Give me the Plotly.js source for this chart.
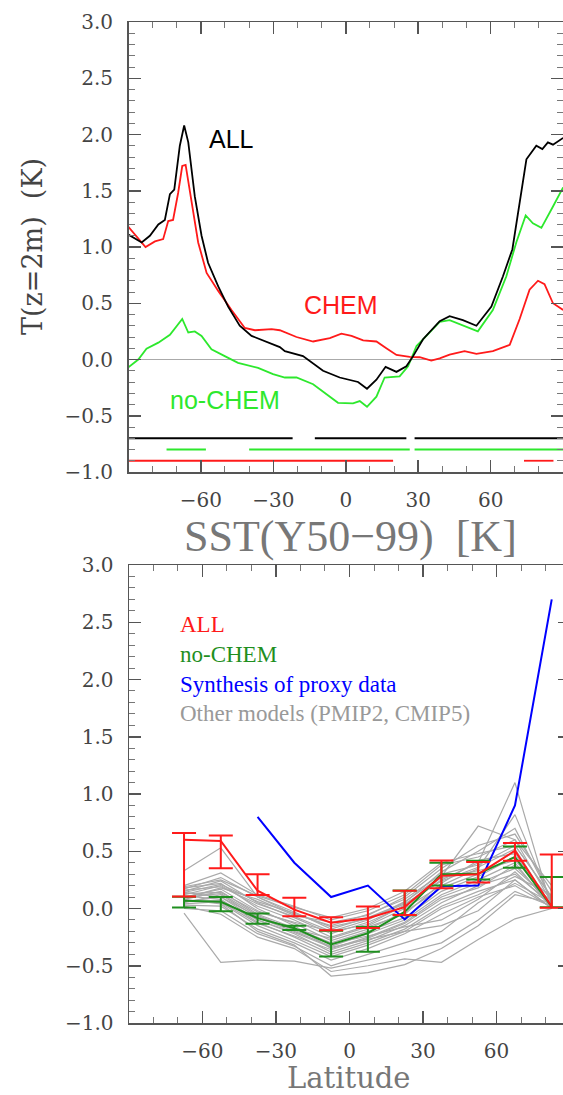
<!DOCTYPE html>
<html><head><meta charset="utf-8">
<script src="https://cdn.plot.ly/plotly-3.0.1.min.js"></script>
<style>html,body{margin:0;padding:0;overflow:hidden;background:#fff;width:563px;height:1095px}#plot{width:572px;height:1095px}</style>
</head><body><div id="plot"></div><script>
// ---------- Top panel: T(z=2m) difference vs latitude ----------
const allLat = [-90,-84.5,-81.1,-77.6,-74.9,-72.8,-71.0,-68.7,-66.9,-65.2,-62.5,-59.7,-57.0,-52.8,-48.7,-43.9,-39.0,-32.1,-27.3,-25.2,-17.7,-9.4,-2.5,5.1,8.8,12.7,16.5,21.0,25.1,27.9,32.0,38.9,43.0,48.5,54.1,60.3,65.1,69.0,72.0,74.8,78.9,81.4,83.7,85.8,90];
const allT   = [1.11,1.04,1.10,1.20,1.24,1.47,1.51,1.90,2.08,1.93,1.45,1.10,0.86,0.65,0.47,0.30,0.21,0.15,0.11,0.074,0.03,-0.10,-0.16,-0.20,-0.26,-0.18,-0.065,-0.11,-0.06,0.03,0.18,0.34,0.385,0.35,0.30,0.47,0.74,0.98,1.39,1.78,1.90,1.87,1.93,1.91,1.97];

const chemLat = [-90,-85.9,-82.9,-79.0,-75.6,-73.5,-71.5,-69.4,-67.7,-66.3,-63.8,-61.1,-57.6,-52.8,-47.3,-41.8,-37.6,-30.7,-27.3,-25.2,-20.4,-13.5,-6.6,-1.8,2.4,7.2,12.7,16.8,21.0,26.5,30.6,35.4,38.9,43.0,49.2,54.1,60.9,67.9,72.0,76.1,79.6,82.3,85.8,90];
const chemT   = [1.18,1.08,1.00,1.05,1.07,1.23,1.24,1.48,1.72,1.73,1.39,1.04,0.77,0.61,0.44,0.28,0.26,0.27,0.26,0.24,0.20,0.16,0.19,0.23,0.21,0.17,0.16,0.10,0.04,0.024,0.02,-0.01,0.01,0.044,0.074,0.05,0.074,0.13,0.36,0.62,0.70,0.67,0.50,0.44];

const noChemLat = [-90,-85.9,-82.5,-77.6,-72.8,-70.0,-67.7,-65.2,-62.5,-59.7,-55.6,-50.1,-44.6,-36.3,-30.1,-25.2,-20.4,-13.5,-8.0,-3.2,3.0,5.8,8.8,12.7,16.1,22.3,25.8,29.3,33.4,38.9,43.0,48.5,54.7,60.9,66.5,70.6,74.5,77.5,81.0,85.8,90];
const noChemT   = [-0.07,0.0,0.095,0.15,0.22,0.30,0.36,0.24,0.25,0.21,0.09,0.03,-0.03,-0.074,-0.13,-0.16,-0.16,-0.22,-0.31,-0.385,-0.39,-0.37,-0.42,-0.33,-0.16,-0.15,-0.06,0.12,0.21,0.335,0.35,0.30,0.25,0.44,0.74,1.04,1.28,1.21,1.17,1.36,1.53];

// significance segments (latitude start / end) and their levels
const sigAllStart = [-90,-12.8,28.5],  sigAllEnd = [-22,25.1,90],  sigAllLevel = -0.7;
const sigNoChemStart = [-74.2,-40,28.5], sigNoChemEnd = [-57.9,26.5,90], sigNoChemLevel = -0.8;
const sigChemStart = [-90,73.8], sigChemEnd = [19.6,86], sigChemLevel = -0.9;

// ---------- Bottom panel: zonal bands ----------
const bandLat = [-67.5,-52.5,-37.5,-22.5,-7.5,7.5,22.5,37.5,52.5,67.5,82.5];
const allMean = [0.60,0.59,0.155,-0.01,-0.125,-0.085,0.012,0.285,0.30,0.505,0.015];
const allLow  = [0.105,0.352,0.117,-0.067,-0.19,-0.17,-0.057,0.176,0.227,0.416,0.006];
const allHigh = [0.66,0.637,0.30,0.093,-0.077,0.017,0.155,0.42,0.407,0.573,0.471];
const noChemMean = [0.068,0.058,-0.084,-0.172,-0.314,-0.215,-0.03,0.30,0.303,0.45,0.015];
const noChemLow  = [0.008,-0.023,-0.133,-0.187,-0.42,-0.378,-0.06,0.20,0.253,0.355,0.01];
const noChemHigh = [0.103,0.10,-0.044,-0.15,-0.195,-0.162,0.157,0.40,0.416,0.541,0.275];
const proxyLat = [-37.5,-22.5,-7.5,7.5,22.5,37.5,52.5,67.5,82.5];
const proxyT   = [0.80,0.40,0.10,0.20,-0.095,0.195,0.20,0.90,2.70];
const otherModels = [
 [0.33,0.53,0.10,-0.05,-0.15,-0.05,0.08,0.30,0.38,0.55,0.10],
 [0.20,0.31,0.12,0.02,-0.10,-0.02,0.12,0.38,0.45,0.60,0.05],
 [0.17,0.27,0.10,-0.03,-0.18,-0.08,0.05,0.32,0.50,0.70,0.08],
 [0.15,0.24,0.05,-0.08,-0.22,-0.12,0.02,0.25,0.40,1.10,0.00],
 [0.12,0.20,0.02,-0.10,-0.25,-0.15,0.00,0.20,0.35,0.82,0.05],
 [0.10,0.17,-0.02,-0.13,-0.28,-0.18,-0.03,0.18,0.30,0.50,0.02],
 [0.08,0.15,-0.05,-0.17,-0.30,-0.20,-0.08,0.15,0.28,0.45,0.03],
 [0.05,0.12,-0.08,-0.20,-0.33,-0.22,-0.10,0.12,0.25,0.40,0.00],
 [0.18,0.22,0.00,-0.15,-0.35,-0.25,-0.12,0.10,0.22,0.35,0.06],
 [0.14,0.10,-0.10,-0.22,-0.38,-0.28,-0.15,0.05,0.20,0.30,0.04],
 [0.11,0.08,-0.12,-0.25,-0.40,-0.30,-0.18,0.02,0.15,0.25,0.00],
 [0.07,0.05,-0.15,-0.28,-0.42,-0.32,-0.20,0.00,0.12,0.28,0.12],
 [0.03,0.02,-0.18,-0.30,-0.45,-0.35,-0.22,-0.05,0.10,0.20,0.01],
 [-0.04,-0.47,-0.45,-0.46,-0.52,-0.45,-0.38,-0.30,-0.10,0.15,0.02],
 [0.00,-0.02,-0.22,-0.33,-0.50,-0.40,-0.30,-0.20,0.05,0.22,0.05],
 [0.09,0.18,0.08,-0.06,-0.12,-0.06,0.10,0.35,0.55,0.65,0.15],
 [0.13,0.14,-0.03,-0.12,-0.20,-0.10,0.06,0.28,0.72,0.60,0.20],
 [0.06,0.10,-0.07,-0.18,-0.26,-0.16,-0.05,0.22,0.42,0.48,0.00],
 [0.16,0.19,0.04,-0.07,-0.20,-0.14,0.03,0.27,0.33,0.42,0.08],
 [0.04,0.06,-0.13,-0.24,-0.36,-0.26,-0.13,0.08,0.18,0.38,0.03],
 [0.10,0.13,-0.06,-0.19,-0.31,-0.24,-0.16,-0.10,0.08,0.32,0.02],
 [0.02,-0.05,-0.25,-0.35,-0.55,-0.50,-0.44,-0.47,-0.27,-0.09,0.00],
 [0.08,0.04,-0.20,-0.32,-0.59,-0.56,-0.49,-0.35,-0.15,0.12,0.05],
 [0.19,0.25,0.11,0.01,-0.08,0.00,0.15,0.40,0.48,0.55,0.10],
 [0.14,0.21,0.06,-0.04,-0.16,-0.09,0.04,0.24,0.36,0.52,0.02],
 [0.06,0.07,-0.10,-0.21,-0.34,-0.27,-0.20,-0.15,-0.02,0.25,0.00]
];

const RED='#ff1a1a', LIME='#2de82d', DKGREEN='#1f8f1f', BLUE='#0000ff', GRAY='#aaaaaa';

function segs(starts, ends, level){
  const x=[], y=[];
  for(let i=0;i<starts.length;i++){ x.push(starts[i], ends[i], null); y.push(level, level, null); }
  return {x, y};
}
const traces = [];
function line(x,y,color,w,xa,ya){ return {x,y,type:'scatter',mode:'lines',line:{color,width:w},xaxis:xa,yaxis:ya,hoverinfo:'skip',showlegend:false}; }

traces.push(line(noChemLat,noChemT,LIME,1.8,'x','y'));
traces.push(line(chemLat,chemT,RED,1.8,'x','y'));
traces.push(line(allLat,allT,'#000',1.8,'x','y'));
let s = segs(sigAllStart,sigAllEnd,sigAllLevel); traces.push(line(s.x,s.y,'#000',1.8,'x','y'));
s = segs(sigNoChemStart,sigNoChemEnd,sigNoChemLevel); traces.push(line(s.x,s.y,LIME,1.8,'x','y'));
s = segs(sigChemStart,sigChemEnd,sigChemLevel); traces.push(line(s.x,s.y,RED,1.8,'x','y'));

otherModels.forEach(m => traces.push(line(bandLat,m,GRAY,1.2,'x2','y2')));
traces.push(line(proxyLat,proxyT,BLUE,2,'x2','y2'));
function eb(mean,low,high,color){
  const t = line(bandLat,mean,color,2,'x2','y2');
  t.error_y = {type:'data',symmetric:false,array:high.map((h,i)=>h-mean[i]),arrayminus:mean.map((m,i)=>m-low[i]),color,thickness:2,width:12};
  return t;
}
traces.push(eb(noChemMean,noChemLow,noChemHigh,DKGREEN));
traces.push(eb(allMean,allLow,allHigh,RED));

const W=572, H=1095;
function axis(extra){
  return Object.assign({showline:true,linecolor:'#555',linewidth:1.5,mirror:'allticks',ticks:'inside',ticklen:12,tickwidth:1.5,tickcolor:'#555',
    showgrid:false,zeroline:false,fixedrange:true,tickfont:{family:'DejaVu Serif',size:20,color:'#444'}},extra);
}
const xCommon = {range:[-89.95,89.95],tickmode:'linear',tick0:0,dtick:30,ticklabelstandoff:9,
  minor:{tickmode:'linear',tick0:0,dtick:10,ticks:'inside',ticklen:6,tickcolor:'#777',tickwidth:1}};
const yCommon = {range:[-1,3],tickmode:'linear',tick0:0,dtick:0.5,tickformat:'.1f',ticklabelstandoff:10,
  minor:{tickmode:'linear',tick0:0,dtick:0.1,ticks:'inside',ticklen:6,tickcolor:'#777',tickwidth:1}};

const layout = {
  width:W,height:H,margin:{l:0,r:0,t:0,b:0},paper_bgcolor:'#fff',plot_bgcolor:'#fff',showlegend:false,
  xaxis: axis(Object.assign({},xCommon,{domain:[128.5/W,563/W],anchor:'y'})),
  yaxis: axis(Object.assign({},yCommon,{domain:[1-472/H,1-22/H],anchor:'x',zeroline:true,zerolinecolor:'#aaa',zerolinewidth:1.5})),
  xaxis2: axis(Object.assign({},xCommon,{domain:[129/W,570/W],anchor:'y2'})),
  yaxis2: axis(Object.assign({},yCommon,{domain:[1-1023/H,1-565/H],anchor:'x2'})),
  annotations:[
    {text:'T(z=2m)  (K)',xref:'paper',yref:'paper',x:32/W,y:1-247/H,textangle:-90,showarrow:false,xanchor:'center',yanchor:'middle',font:{family:'DejaVu Serif',size:27,color:'#444'}},
    {text:'SST(Y50\u221299)  [K]',xref:'paper',yref:'paper',x:350/W,y:1-536/H,showarrow:false,xanchor:'center',yanchor:'middle',font:{family:'Liberation Serif',size:44,color:'#777'}},
    {text:'Latitude',xref:'paper',yref:'paper',x:349/W,y:1-1078/H,showarrow:false,xanchor:'center',yanchor:'middle',font:{family:'DejaVu Serif',size:29,color:'#777'}},
    {text:'ALL',xref:'x',yref:'y',x:-47.2,y:1.96,showarrow:false,font:{family:'Liberation Sans',size:25,color:'#000'}},
    {text:'CHEM',xref:'x',yref:'y',x:-2.1,y:0.48,showarrow:false,font:{family:'Liberation Sans',size:25,color:RED}},
    {text:'no-CHEM',xref:'x',yref:'y',x:-50.1,y:-0.356,showarrow:false,font:{family:'Liberation Sans',size:25,color:LIME}},
    {text:'ALL',xref:'x2',yref:'y2',x:-70,y:2.48,xanchor:'left',showarrow:false,font:{family:'Liberation Serif',size:23,color:RED}},
    {text:'no-CHEM',xref:'x2',yref:'y2',x:-70,y:2.22,xanchor:'left',showarrow:false,font:{family:'Liberation Serif',size:23,color:DKGREEN}},
    {text:'Synthesis of proxy data',xref:'x2',yref:'y2',x:-70,y:1.96,xanchor:'left',showarrow:false,font:{family:'Liberation Serif',size:23,color:BLUE}},
    {text:'Other models (PMIP2, CMIP5)',xref:'x2',yref:'y2',x:-70,y:1.70,xanchor:'left',showarrow:false,font:{family:'Liberation Serif',size:23,color:'#999'}}
  ]
};
Plotly.newPlot('plot',traces,layout,{staticPlot:true,displayModeBar:false});
</script></body></html>
